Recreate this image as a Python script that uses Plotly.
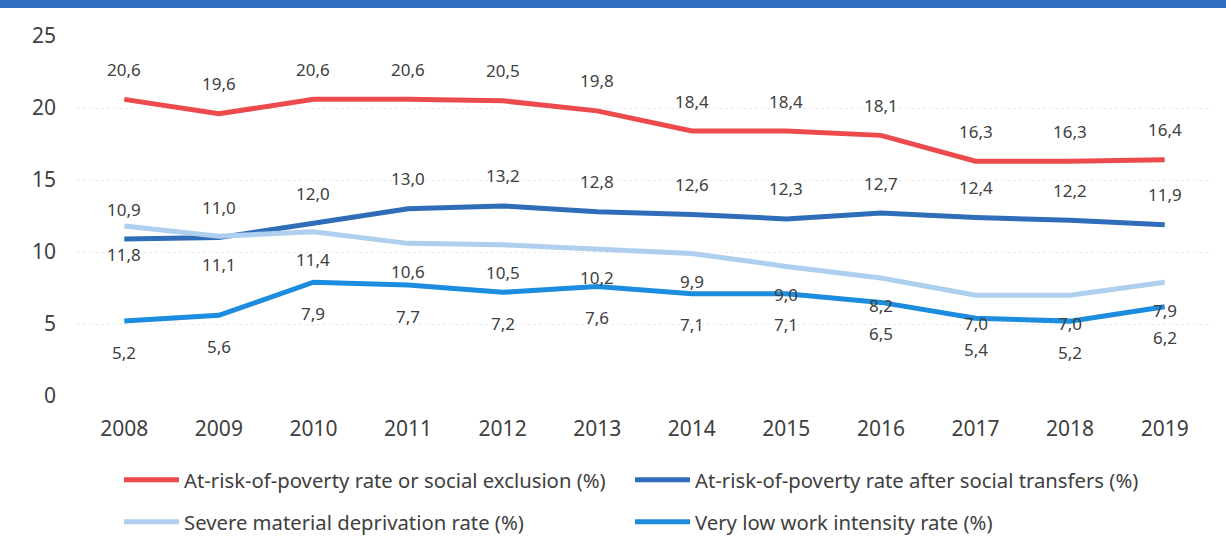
import plotly.graph_objects as go

years = ["2008", "2009", "2010", "2011", "2012", "2013", "2014", "2015", "2016", "2017", "2018", "2019"]
arope = [20.6, 19.6, 20.6, 20.6, 20.5, 19.8, 18.4, 18.4, 18.1, 16.3, 16.3, 16.4]
after_transfers = [10.9, 11.0, 12.0, 13.0, 13.2, 12.8, 12.6, 12.3, 12.7, 12.4, 12.2, 11.9]
severe_depr = [11.8, 11.1, 11.4, 10.6, 10.5, 10.2, 9.9, 9.0, 8.2, 7.0, 7.0, 7.9]
low_work = [5.2, 5.6, 7.9, 7.7, 7.2, 7.6, 7.1, 7.1, 6.5, 5.4, 5.2, 6.2]
y_ticks = [0, 5, 10, 15, 20, 25]

series = [
    ("At-risk-of-poverty rate or social exclusion (%)", arope, "#EC4A4C", 30, "legend"),
    ("At-risk-of-poverty rate after social transfers (%)", after_transfers, "#2F6DB9", 30, "legend"),
    ("Severe material deprivation rate (%)", severe_depr, "#AFCFEF", -28, "legend2"),
    ("Very low work intensity rate (%)", low_work, "#1C8CDF", -31, "legend2"),
]

FONT = "Noto Sans"
TXT = "#404040"
W, H = 1226, 551
ML, MR, MT, MB = 77, 14, 36, 155
PW, PH = W - ML - MR, H - MT - MB

fig = go.Figure()
annotations = []
for name, vals, color, shift, lg in series:
    fig.add_trace(go.Scatter(
        x=years, y=vals, mode="lines", name=name, legend=lg,
        line=dict(color=color, width=5),
    ))
    for i, v in enumerate(vals):
        annotations.append(dict(
            x=i, y=v, xref="x", yref="y", text=f"{v:.1f}".replace(".", ","),
            showarrow=False, yshift=shift,
            font=dict(family=FONT, size=17, color=TXT),
        ))

def legend_cfg(row_center_px):
    return dict(
        orientation="h", x=(119 - ML) / PW, y=1 - (row_center_px - MT) / PH,
        xanchor="left", yanchor="middle",
        entrywidth=441, entrywidthmode="pixels", itemwidth=55,
        font=dict(family=FONT, size=20.3, color=TXT),
        bgcolor="rgba(0,0,0,0)",
    )

fig.update_layout(
    width=W, height=H,
    margin=dict(l=ML, r=MR, t=MT, b=MB, autoexpand=False),
    paper_bgcolor="white", plot_bgcolor="white",
    font=dict(family=FONT, color=TXT),
    annotations=annotations,
    showlegend=True,
    legend=legend_cfg(480),
    legend2=legend_cfg(522),
    xaxis=dict(
        type="category", range=[-0.5, len(years) - 0.5],
        showgrid=False, zeroline=False, showline=False,
        tickfont=dict(family=FONT, size=21, color=TXT), ticklabelstandoff=18,
    ),
    yaxis=dict(
        range=[0, 25], tickvals=y_ticks, showgrid=True, gridcolor="#ECECEC",
        griddash="dot", gridwidth=1, zeroline=False, showline=False,
        tickfont=dict(family=FONT, size=21, color=TXT), ticklabelstandoff=20,
    ),
    shapes=[
        dict(type="rect", xref="paper", yref="paper",
             x0=-ML / PW, x1=1 + MR / PW, y0=1 + (MT - 8) / PH, y1=1 + MT / PH,
             fillcolor="#2E6FC2", line=dict(width=0), layer="above"),
    ],
)

fig.write_html(
    "out.html",
    config={"displayModeBar": False},
    post_script="document.body.style.margin='0';",
)
